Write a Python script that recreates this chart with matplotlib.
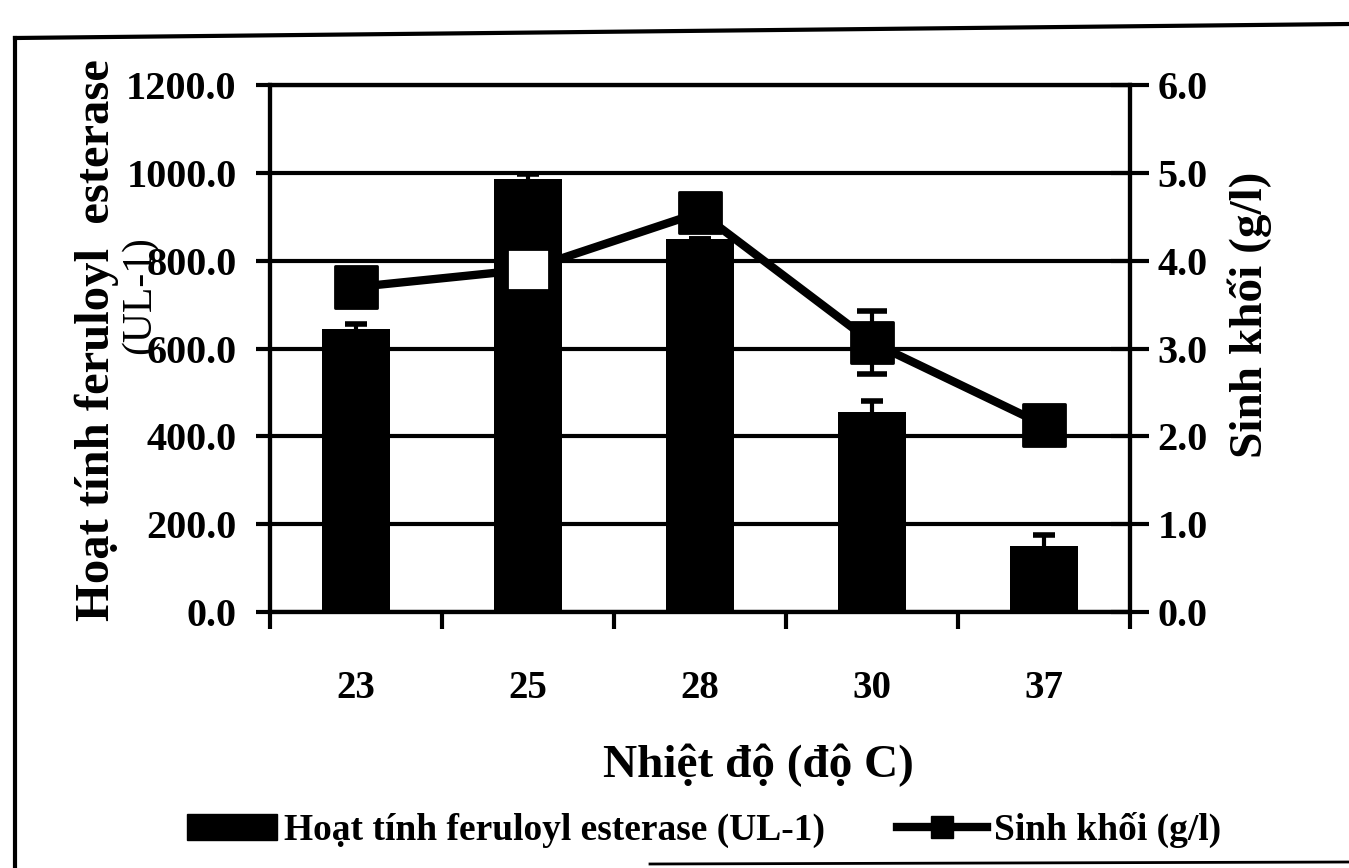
import matplotlib
matplotlib.use('Agg')
import matplotlib.pyplot as plt
from matplotlib.patches import Patch
from matplotlib.lines import Line2D
import numpy as np

# temperature groups and measurements
temps = ['23', '25', '28', '30', '37']
activity = [645, 985, 850, 455, 150]          # feruloyl esterase, UL-1
activity_err = [10, 12, 0, 25, 25]
biomass = [3.7, 3.9, 4.55, 3.07, 2.13]       # g/l
biomass_err = [0, 0, 0, 0.36, 0]
marker_faces = ['black', 'white', 'black', 'black', 'black']

plt.rcParams['font.family'] = ['Liberation Serif', 'DejaVu Serif']
plt.rcParams['font.weight'] = 'bold'

fig = plt.figure(figsize=(13.49, 8.68), dpi=100)
ax = fig.add_axes([0.2001, 0.2949, 0.6375, 0.6071])
x = np.arange(len(temps))

# bars with error bars
ax.bar(x, activity, width=0.4, color='black', zorder=3)
ax.errorbar(x, activity, yerr=activity_err, fmt='none', ecolor='black',
            elinewidth=3, capsize=8, capthick=4, zorder=4)
ax.set_xlim(-0.5, 4.5)
ax.set_ylim(0, 1200)
ax.set_yticks(np.arange(0, 1201, 200))
ax.set_yticklabels(['%.1f' % v for v in np.arange(0, 1201, 200)])
ax.yaxis.grid(True, color='black', linewidth=3)
ax.set_axisbelow(True)
ax.set_xticks(x)
ax.set_xticklabels(temps)
ax.set_xticks(np.arange(-0.5, 4.6, 1.0), minor=True)
ax.tick_params(axis='x', which='major', length=0, pad=42, labelsize=28)
ax.tick_params(axis='x', which='minor', direction='out', length=12, width=3)
ax.tick_params(axis='y', direction='out', length=10, width=3, pad=14, labelsize=29)
for s in ax.spines.values():
    s.set_linewidth(3)

# biomass line on the right axis
ax2 = ax.twinx()
ax2.plot(x, biomass, color='black', linewidth=6, zorder=5)
ax2.errorbar(x, biomass, yerr=biomass_err, fmt='none', ecolor='black',
             elinewidth=3, capsize=11, capthick=4, zorder=5)
ax2.scatter(x, biomass, marker='s', s=900, c=marker_faces, edgecolors='black',
            linewidths=2, zorder=6)
ax2.set_ylim(0, 6)
ax2.set_yticks(np.arange(0, 6.1, 1.0))
ax2.set_yticklabels(['%.1f' % v for v in np.arange(0, 6.1, 1.0)])
ax2.tick_params(axis='y', direction='inout', length=28, width=3, pad=6, labelsize=29)
for s in ax2.spines.values():
    s.set_linewidth(3)

# axis titles
fig.text(97/1349, 1 - 340/868, 'Hoạt tính feruloyl  esterase', rotation=90,
         ha='center', va='center', fontsize=35)
fig.text(140/1349, 1 - 295/868, '(UL-1)', rotation=90, ha='center', va='center',
         fontsize=30, fontweight='normal')
fig.text(1250/1349, 1 - 315/868, 'Sinh khối (g/l)', rotation=90,
         ha='center', va='center', fontsize=34)
fig.text(758/1349, 1 - 765/868, 'Nhiệt độ (độ C)', ha='center', va='center',
         fontsize=34)

# legend along the bottom
handles = [Patch(facecolor='black', edgecolor='black'),
           Line2D([], [], color='black', linewidth=6, marker='s', markersize=16)]
fig.legend(handles, ['Hoạt tính feruloyl esterase (UL-1)', 'Sinh khối (g/l)'],
           loc='center', bbox_to_anchor=(704/1349, 1 - 830/868), ncol=2,
           frameon=False, fontsize=27, handlelength=2.4, handletextpad=0.2,
           columnspacing=1.9)

# outer frame of the figure panel
fig.add_artist(Line2D([15/1349, 15/1349], [1 - 38/868, 0], color='black', linewidth=3))
fig.add_artist(Line2D([15/1349, 1], [1 - 38/868, 1 - 24/868], color='black', linewidth=3))
fig.add_artist(Line2D([650/1349, 1], [1 - 864/868, 1 - 862/868], color='black', linewidth=2))

fig.savefig('out.png', dpi=100)
